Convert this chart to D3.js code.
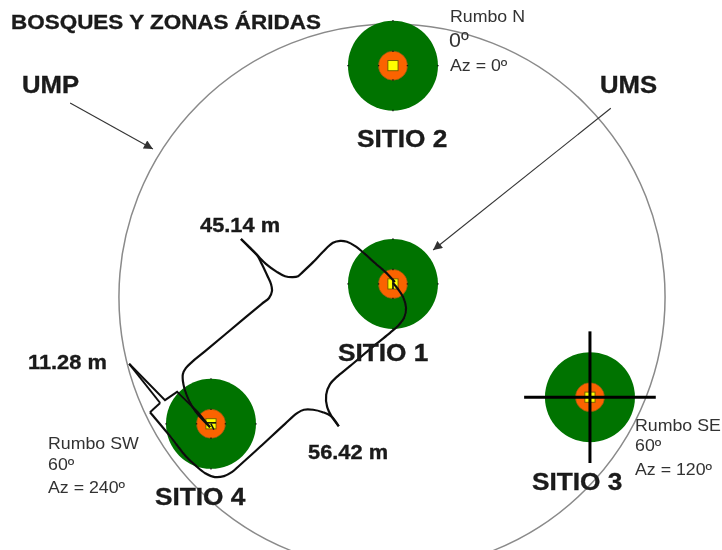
<!DOCTYPE html>
<html>
<head>
<meta charset="utf-8">
<script src="https://cdn.jsdelivr.net/npm/d3@7"></script>
<style>
  html, body { margin: 0; padding: 0; background: #fff; }
  text { font-family: 'Liberation Sans', Arial, sans-serif; }
</style>
</head>
<body>
<div id="chart"></div>
<script>
// everything is in metres, measured from the centre of the big plot (east, north)
const umpRadius = 56.42;
const umsRadius = 9.3;
const innerRadius = 3.0;
const centerHalf = 1.05;

const siteNames = ['SITIO 1', 'SITIO 2', 'SITIO 3', 'SITIO 4'];
const siteEast = [0.2, 0.2, 40.9, -37.4];
const siteNorth = [2.7, 47.8, -20.7, -26.2];

// brackets between the sites
const brace45a = [[-31.2, 12.0], [-29.5, 10.3], [-27.9, 8.7], [-26.0, 6.8], [-23.8, 5.2], [-22.1, 4.3], [-20.5, 4.1], [-19.4, 4.3], [-18.4, 5.2], [-16.3, 7.2], [-14.3, 9.3], [-12.2, 11.2], [-10.7, 11.6], [-9.3, 11.4], [-7.6, 10.5], [-5.6, 8.9], [-3.5, 7.0], [-1.4, 5.2], [0.6, 3.1]];
const brace45b = [[-31.2, 12.0], [-29.5, 10.3], [-27.9, 8.7], [-26.9, 6.8], [-25.8, 4.5], [-25.0, 2.7], [-24.8, 1.2], [-25.4, -0.2], [-26.9, -1.4], [-30.4, -4.3], [-38.6, -11.2], [-41.3, -13.4], [-42.6, -14.7], [-43.2, -15.9], [-43.2, -17.4], [-42.8, -19.2], [-41.9, -21.5], [-40.5, -23.8], [-37.6, -26.9]];
const brace56a = [[-11.0, -26.7], [-12.4, -24.8], [-13.4, -22.7], [-13.6, -20.2], [-12.8, -18.0], [-11.4, -16.5], [-8.7, -14.3], [-3.5, -9.9], [-0.4, -7.4], [1.2, -6.0], [2.5, -4.3], [2.9, -2.3], [2.3, 0], [1.2, 1.7], [0.2, 2.9]];
const brace56b = [[-11.0, -26.7], [-12.6, -24.6], [-14.3, -23.8], [-16.3, -23.3], [-18.2, -23.3], [-19.6, -24.0], [-22.1, -26.2], [-27.3, -31.0], [-31.4, -34.7], [-33.1, -36.2], [-34.7, -37.0], [-36.6, -37.2], [-38.6, -36.4], [-40.5, -34.9], [-42.6, -32.9], [-45.9, -28.7], [-50.0, -23.8]];
const brace11a = [[-50.0, -23.8], [-47.9, -21.9]];
const brace11b = [[-54.3, -13.8], [-47.9, -21.9]];
const brace11c = [[-54.3, -13.8], [-46.9, -21.3], [-44.4, -19.6], [-40.1, -23.8], [-37.6, -26.9]];

const arrowUmp = [[-66.5, 40.1], [-49.4, 30.6]];
const arrowUms = [[45.2, 39.0], [8.5, 9.7]];
const crossArm = 13.6;

const width = 722, height = 550;
const pxPerMetre = 4.84;

const x = d3.scaleLinear().domain([0, 1]).range([392, 392 + pxPerMetre]);
const y = d3.scaleLinear().domain([0, 1]).range([297, 297 - pxPerMetre]);
const r = d3.scaleLinear().domain([0, 1]).range([0, pxPerMetre]);

const svg = d3.select('#chart').append('svg')
  .attr('width', width)
  .attr('height', height)
  .style('display', 'block');

const defs = svg.append('defs');
defs.append('filter').attr('id', 'soft')
  .append('feGaussianBlur').attr('stdDeviation', 0.55);
defs.append('marker')
  .attr('id', 'head')
  .attr('viewBox', '0 0 10 10')
  .attr('refX', 10).attr('refY', 5)
  .attr('markerWidth', 11).attr('markerHeight', 9)
  .attr('markerUnits', 'userSpaceOnUse')
  .attr('orient', 'auto')
  .append('path').attr('d', 'M0,0L10,5L0,10Z').attr('fill', '#333');

const g = svg.append('g').attr('filter', 'url(#soft)');

g.append('circle')
  .attr('cx', x(0)).attr('cy', y(0)).attr('r', r(umpRadius))
  .attr('fill', 'none').attr('stroke', '#8a8a8a').attr('stroke-width', 1.5);

const sites = siteNames.map((name, i) => ({ name, east: siteEast[i], north: siteNorth[i] }));

const site = g.selectAll('g.site').data(sites).enter().append('g')
  .attr('class', 'site')
  .attr('transform', (d) => `translate(${x(d.east)},${y(d.north)})`);

site.append('circle').attr('r', r(umsRadius)).attr('fill', '#057305');
site.append('circle').attr('r', r(innerRadius))
  .attr('fill', '#fb6400').attr('stroke', '#7a5a10').attr('stroke-width', 0.6);
site.append('rect')
  .attr('x', -r(centerHalf)).attr('y', -r(centerHalf))
  .attr('width', r(centerHalf * 2)).attr('height', r(centerHalf * 2))
  .attr('fill', '#ffff00').attr('stroke', '#6b5a00').attr('stroke-width', 0.9);

// the small marks on each ring, north east south west
const ringTicks = [[0, -1], [1, 0], [0, 1], [-1, 0]];
[umsRadius, innerRadius].forEach((radius) => {
  site.selectAll(null).data(ringTicks).enter().append('line')
    .attr('x1', (d) => d[0] * (r(radius) - 0.8))
    .attr('y1', (d) => d[1] * (r(radius) - 0.8))
    .attr('x2', (d) => d[0] * (r(radius) + 0.6))
    .attr('y2', (d) => d[1] * (r(radius) + 0.6))
    .attr('stroke', '#111').attr('stroke-width', 1.2);
});

const curved = d3.line().x((d) => x(d[0])).y((d) => y(d[1])).curve(d3.curveCatmullRom.alpha(0.5));
const straight = d3.line().x((d) => x(d[0])).y((d) => y(d[1]));

g.selectAll('path.brace')
  .data([brace45a, brace45b, brace56a, brace56b])
  .enter().append('path')
  .attr('class', 'brace')
  .attr('d', curved)
  .attr('fill', 'none').attr('stroke', '#111').attr('stroke-width', 2.2);

g.selectAll('path.tip')
  .data([brace11a, brace11b, brace11c])
  .enter().append('path')
  .attr('class', 'tip')
  .attr('d', straight)
  .attr('fill', 'none').attr('stroke', '#111').attr('stroke-width', 2);

// lines across the yellow squares of sitio 1 and sitio 4
const s1 = sites[0], s4 = sites[3];
g.selectAll('path.split')
  .data([
    [[s1.east, s1.north + centerHalf], [s1.east, s1.north - centerHalf]],
    [[s4.east - centerHalf, s4.north + 0.2], [s4.east + centerHalf, s4.north + 0.2]],
    [[s4.east, s4.north], [s4.east + 0.6, s4.north - 1.2]],
  ])
  .enter().append('path')
  .attr('class', 'split')
  .attr('d', straight)
  .attr('stroke', '#111').attr('stroke-width', 1.6);

// cross over sitio 3
const s3 = sites[2];
g.selectAll('path.cross')
  .data([
    [[s3.east, s3.north + crossArm], [s3.east, s3.north - crossArm]],
    [[s3.east - crossArm, s3.north], [s3.east + crossArm, s3.north]],
  ])
  .enter().append('path')
  .attr('class', 'cross')
  .attr('d', straight)
  .attr('stroke', '#000').attr('stroke-width', 3);

g.selectAll('path.arrow')
  .data([arrowUmp, arrowUms])
  .enter().append('path')
  .attr('class', 'arrow')
  .attr('d', straight)
  .attr('stroke', '#333').attr('stroke-width', 1.1)
  .attr('marker-end', 'url(#head)');

// the source picture is a little wider than the font, so stretch each label
const STRETCH = 1.07;
function label(txt, px, py, size, bold) {
  g.append('text')
    .attr('transform', `translate(${px},${py}) scale(${STRETCH},1)`)
    .attr('font-size', size)
    .attr('font-weight', bold ? 'bold' : 'normal')
    .attr('fill', bold ? '#1a1a1a' : '#333')
    .attr('stroke', bold ? '#1a1a1a' : 'none')
    .attr('stroke-width', bold ? 0.35 : 0)
    .text(txt);
}

label('BOSQUES Y ZONAS ÁRIDAS', 11, 29, 21, true);
label('UMP', 22, 93, 24, true);
label('UMS', 600, 93, 24, true);
label('SITIO 2', 357, 147, 24.5, true);
label('SITIO 1', 338, 361, 24.5, true);
label('SITIO 3', 532, 490, 24.5, true);
label('SITIO 4', 155, 505, 24.5, true);
label('45.14 m', 200, 232, 20.4, true);
label('56.42 m', 308, 459, 20.4, true);
label('11.28 m', 28, 369, 20.4, true);

label('Rumbo N', 450, 22, 16.6, false);
label('0º', 449, 47, 20, false);
label('Az = 0º', 450, 71, 16.6, false);
label('Rumbo SE', 635, 431, 16.6, false);
label('60º', 635, 451, 16.6, false);
label('Az = 120º', 635, 475, 16.6, false);
label('Rumbo SW', 48, 449, 16.6, false);
label('60º', 48, 470, 16.6, false);
label('Az = 240º', 48, 493, 16.6, false);
</script>
</body>
</html>
